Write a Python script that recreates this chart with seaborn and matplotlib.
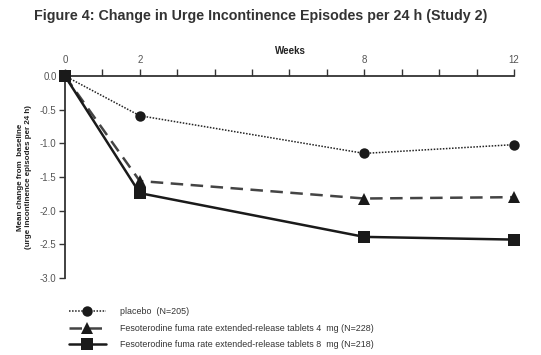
import pandas as pd
import matplotlib
matplotlib.use("Agg")
import matplotlib.pyplot as plt
import seaborn as sns

# values
weeks = [0, 2, 8, 12]
placebo = [0.0, -0.59, -1.15, -1.02]
fes_4mg = [0.0, -1.56, -1.82, -1.80]
fes_8mg = [0.0, -1.74, -2.39, -2.43]
groups = ["placebo  (N=205)",
          "Fesoterodine fuma rate extended-release tablets 4  mg (N=228)",
          "Fesoterodine fuma rate extended-release tablets 8  mg (N=218)"]
week_labels = ["0", "2", "8", "12"]
y_ticks = [0.0, -0.5, -1.0, -1.5, -2.0, -2.5, -3.0]

df = pd.DataFrame({
    "week": weeks * 3,
    "change": placebo + fes_4mg + fes_8mg,
    "group": [groups[0]] * 4 + [groups[1]] * 4 + [groups[2]] * 4,
})

sns.set_style("white")
plt.rcParams["font.family"] = ["Liberation Sans", "DejaVu Sans"]

fig = plt.figure(figsize=(5.41, 3.55), dpi=100)
ax = fig.add_axes([0.120, 0.217, 0.830, 0.569])

styles = {
    groups[0]: dict(color="#222222", lw=1.1, ls=(0, (1, 1)), marker="o", ms=7.5),
    groups[1]: dict(color="#444444", lw=1.8, ls=(0, (5, 3)), marker="^", ms=9),
    groups[2]: dict(color="#1a1a1a", lw=1.8, ls="-", marker="s", ms=9),
}
for g in groups:
    st = styles[g]
    sns.lineplot(data=df[df["group"] == g], x="week", y="change", ax=ax,
                 color=st["color"], linewidth=st["lw"], linestyle=st["ls"],
                 marker=st["marker"], markersize=st["ms"], markeredgewidth=0,
                 markerfacecolor="#1a1a1a", label=g, clip_on=False, zorder=3)

ax.set_xlim(0, 12)
ax.set_ylim(-3.0, 0.0)
ax.xaxis.tick_top()
ax.xaxis.set_label_position("top")
ax.set_xticks(range(13))
ax.set_xticklabels([str(k) if str(k) in week_labels else "" for k in range(13)])
ax.set_yticks(y_ticks)
ax.set_yticklabels([f"{v:.1f}" for v in y_ticks])
ax.tick_params(axis="x", direction="out", length=5, width=1, color="#333333",
               labelsize=7, labelcolor="#555555", pad=3, top=True, bottom=False)
ax.tick_params(axis="y", direction="out", length=4, width=1, color="#333333",
               labelsize=7, labelcolor="#555555", pad=2, left=True)
for side in ["right", "bottom"]:
    ax.spines[side].set_visible(False)
for side in ["top", "left"]:
    ax.spines[side].set_color("#333333")
    ax.spines[side].set_linewidth(1.3)

ax.set_xlabel("")
ax.set_ylabel("Mean change from  baseline\n(urge incontinence episodes per 24 h)",
              fontsize=5.8, fontweight="bold",
              color="#222222", labelpad=6, linespacing=1.2)
fig.text(0.536, 0.855, "Weeks", fontsize=7, fontweight="bold",
         ha="center", va="center", color="#222222")

fig.text(0.062, 0.955, "Figure 4: Change in Urge Incontinence Episodes per 24 h (Study 2)",
         fontsize=10.3, fontweight="bold",
         ha="left", va="center", color="#333333")

handles, labels = ax.get_legend_handles_labels()
ax.legend_.remove()
fig.legend(handles, labels, loc="upper left", bbox_to_anchor=(0.128, 0.135),
           frameon=False, fontsize=6.4, handlelength=4.1, handletextpad=1.6,
           labelspacing=0.85, numpoints=1, labelcolor="#333333",
           borderaxespad=0, borderpad=0)

fig.savefig("out.png", dpi=100, facecolor="white")
